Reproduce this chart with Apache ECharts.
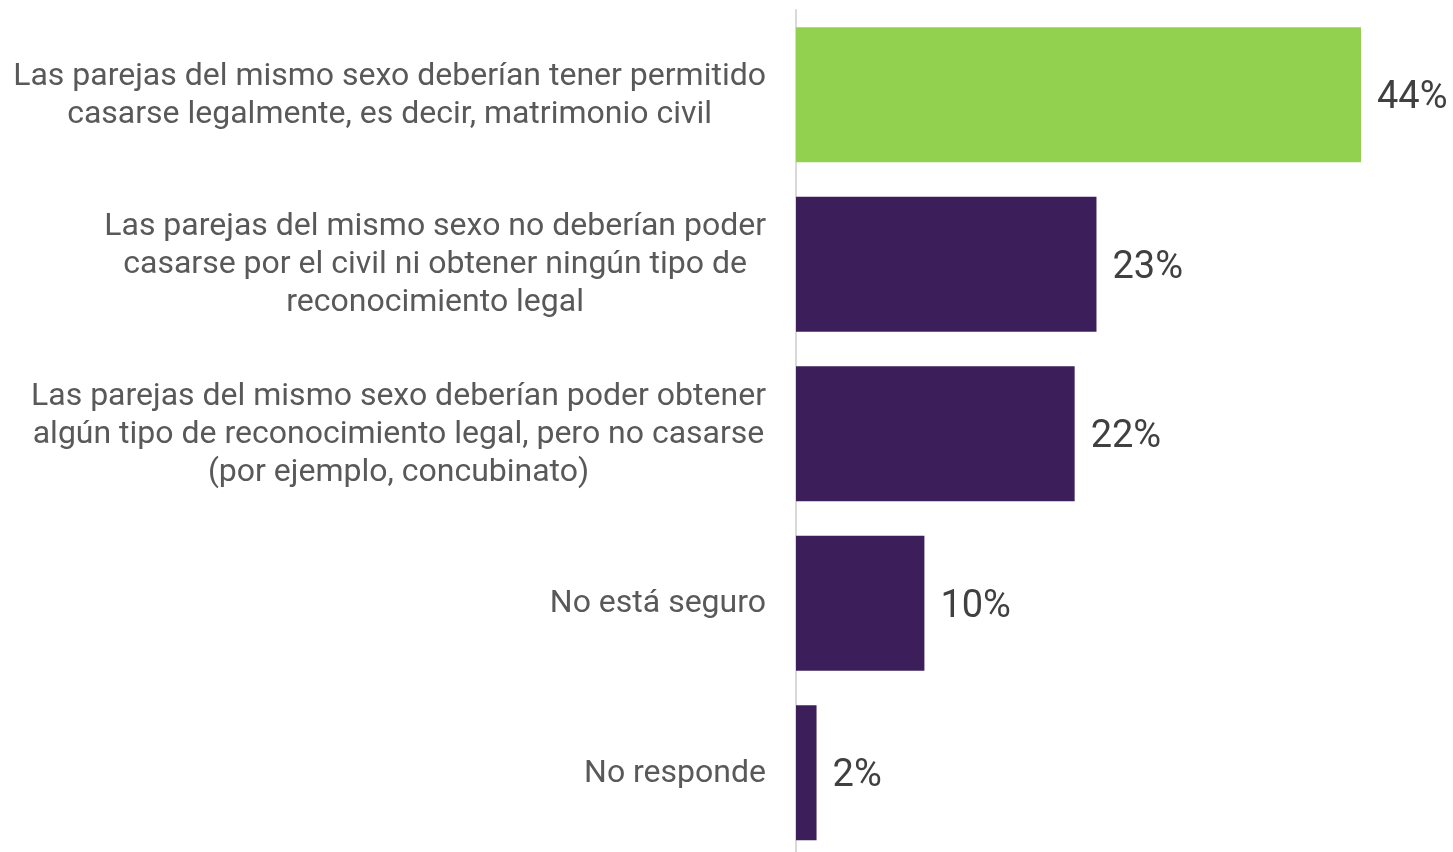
<!DOCTYPE html>
<html><head><meta charset="utf-8">
<script src="https://cdn.jsdelivr.net/npm/echarts@6/dist/echarts.min.js"></script>
<style>html,body{margin:0;padding:0;background:#fff}#c{width:1453px;height:852px}</style>
</head><body><div id="c"></div>
<script>
const categories = [
  "Las parejas del mismo sexo deberían tener permitido\ncasarse legalmente, es decir, matrimonio civil",
  "Las parejas del mismo sexo no deberían poder\ncasarse por el civil ni obtener ningún tipo de\nreconocimiento legal",
  "Las parejas del mismo sexo deberían poder obtener\nalgún tipo de reconocimiento legal, pero no casarse\n(por ejemplo, concubinato)",
  "No está seguro",
  "No responde"
];
const values = [44, 23.4, 21.7, 10, 1.6];
const barColors = ["#92D050", "#3C1F5A", "#3C1F5A", "#3C1F5A", "#3C1F5A"];

const chart = echarts.init(document.getElementById('c'));
chart.setOption({
  animation: false,
  grid: {left: 796, width: 565, top: 10, height: 847.5, containLabel: false, outerBoundsMode: 'none'},
  xAxis: {type: 'value', min: 0, max: 44, show: false},
  yAxis: {
    type: 'category', inverse: true, data: categories,
    axisLine: {show: true, lineStyle: {color: '#d9d9d9', width: 2}},
    axisTick: {show: false},
    axisLabel: {
      margin: 30,
      formatter: v => v.split('\n').map(l => '{c|' + l + '}').join('\n'),
      rich: {c: {align: 'center', fontSize: 32, lineHeight: 38, color: '#595959', fontFamily: 'Roboto', padding: [2, 0, 0, 0]}}
    }
  },
  series: [{
    type: 'bar', barWidth: 135,
    data: values.map((v, i) => ({value: v, itemStyle: {color: barColors[i]}})),
    label: {show: true, position: 'right', distance: 16, offset: [0, 4], formatter: p => Math.round(p.value) + '%', fontSize: 38, color: '#404040', fontFamily: 'Roboto'}
  }]
});
</script></body></html>
